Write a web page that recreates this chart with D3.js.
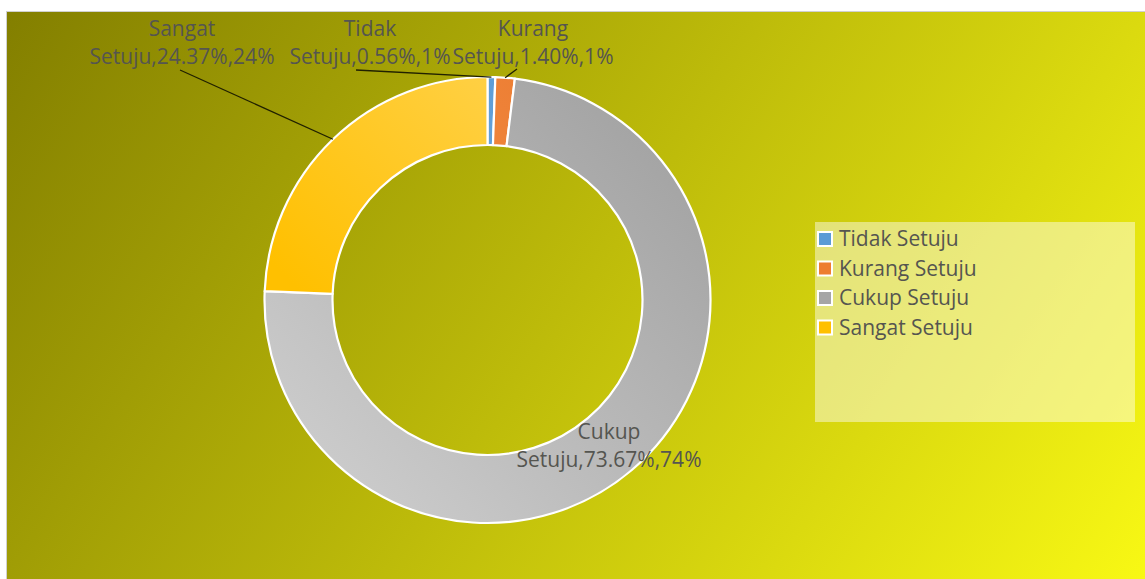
<!DOCTYPE html>
<html>
<head>
<meta charset="utf-8">
<script src="https://cdn.jsdelivr.net/npm/d3@7"></script>
<style>
  html, body { margin: 0; padding: 0; background: #ffffff; }
  svg { display: block; }
  text { font-family: "Open Sans", "Noto Sans", sans-serif; fill: #555550; }
</style>
</head>
<body>
<svg id="chart" width="1145" height="579"></svg>
<script>
// ---- data ----
const categories = ["Tidak Setuju", "Kurang Setuju", "Cukup Setuju", "Sangat Setuju"];
const percentValues = [0.56, 1.40, 73.67, 24.37];
const roundedLabels = ["1%", "1%", "74%", "24%"];
const sliceColors = ["#5b9bd5", "#ed7d31", "#a5a5a5", "#ffc000"];
const sliceLight = ["#7eb3e0", "#f39a5c", "#d2d2d2", "#ffd044"];

// ---- layout ----
const W = 1145, H = 579;
const cx = 487.5, cy = 300, rOuter = 223, rInner = 155;
const labelFont = 21;
// label anchor (center x, first-line baseline) and leader start, per category
const labelLayout = [
  { x: 370, y: 36, lx: 356, ly: 70 },
  { x: 533, y: 36, lx: 517, ly: 69 },
  { x: 609, y: 439, lx: null, ly: null },
  { x: 182, y: 36, lx: 180, ly: 70 }
];

const svg = d3.select("#chart");
const defs = svg.append("defs");

const bg = defs.append("linearGradient").attr("id", "bg")
  .attr("gradientUnits", "userSpaceOnUse")
  .attr("x1", 7).attr("y1", 12).attr("x2", 1055).attr("y2", 713);
bg.append("stop").attr("offset", 0).attr("stop-color", "#837f00");
bg.append("stop").attr("offset", 1).attr("stop-color", "#f8f814");

categories.forEach((c, i) => {
  const g = defs.append("linearGradient").attr("id", "sg" + i)
    .attr("gradientUnits", "userSpaceOnUse")
    .attr("x1", -rOuter).attr("y1", rOuter)
    .attr("x2", rOuter).attr("y2", -rOuter);
  if (i === 3) {
    g.append("stop").attr("offset", 0.3).attr("stop-color", sliceColors[i]);
    g.append("stop").attr("offset", 0.75).attr("stop-color", sliceLight[i]);
  } else {
    g.append("stop").attr("offset", 0).attr("stop-color", sliceLight[i]);
    g.append("stop").attr("offset", 0.85).attr("stop-color", sliceColors[i]);
  }
});

// outer frame
svg.append("rect").attr("x", 6.5).attr("y", 11.5).attr("width", W).attr("height", H)
  .attr("fill", "url(#bg)").attr("stroke", "#d0d0d0").attr("stroke-width", 1);

// ---- donut ----
const pie = d3.pie().sort(null).value(d => d.v);
const data = categories.map((c, i) => ({ c, v: percentValues[i], i }));
const arcs = pie(data);
const arc = d3.arc().innerRadius(rInner).outerRadius(rOuter);

const g = svg.append("g").attr("transform", `translate(${cx},${cy})`);
g.selectAll("path.slice").data(arcs).enter().append("path")
  .attr("class", "slice")
  .attr("d", arc)
  .attr("fill", d => `url(#sg${d.data.i})`)
  .attr("stroke", "#ffffff").attr("stroke-width", 2.2).attr("stroke-linejoin", "round");

// ---- leader lines ----
const outerPt = d3.arc().innerRadius(rOuter).outerRadius(rOuter);
arcs.forEach((d, i) => {
  const L = labelLayout[i];
  if (L.lx === null) return;
  const [px, py] = outerPt.centroid(d);
  svg.append("line")
    .attr("x1", L.lx).attr("y1", L.ly)
    .attr("x2", cx + px).attr("y2", cy + py)
    .attr("stroke", "#202000").attr("stroke-width", 1.3);
});

// ---- data labels ----
arcs.forEach((d, i) => {
  const L = labelLayout[i];
  const parts = categories[i].split(" ");
  const t = svg.append("text")
    .attr("text-anchor", "middle")
    .attr("font-size", labelFont);
  t.append("tspan").attr("x", L.x).attr("y", L.y).text(parts[0]);
  t.append("tspan").attr("x", L.x).attr("y", L.y + 28)
    .text(`${parts[1]},${percentValues[i].toFixed(2)}%,${roundedLabels[i]}`);
});

// ---- legend ----
const lg = svg.append("g");
lg.append("rect").attr("x", 815).attr("y", 222).attr("width", 320).attr("height", 200)
  .attr("fill", "#ffffff").attr("fill-opacity", 0.45);
categories.forEach((c, i) => {
  const y = 239 + i * 29.5;
  lg.append("rect").attr("x", 817).attr("y", y - 8).attr("width", 16).attr("height", 16)
    .attr("fill", "#ffffff");
  lg.append("rect").attr("x", 819).attr("y", y - 6).attr("width", 12).attr("height", 12)
    .attr("fill", sliceColors[i]);
  lg.append("text").attr("x", 839).attr("y", y + 7)
    .attr("font-size", labelFont).text(c);
});
</script>
</body>
</html>
